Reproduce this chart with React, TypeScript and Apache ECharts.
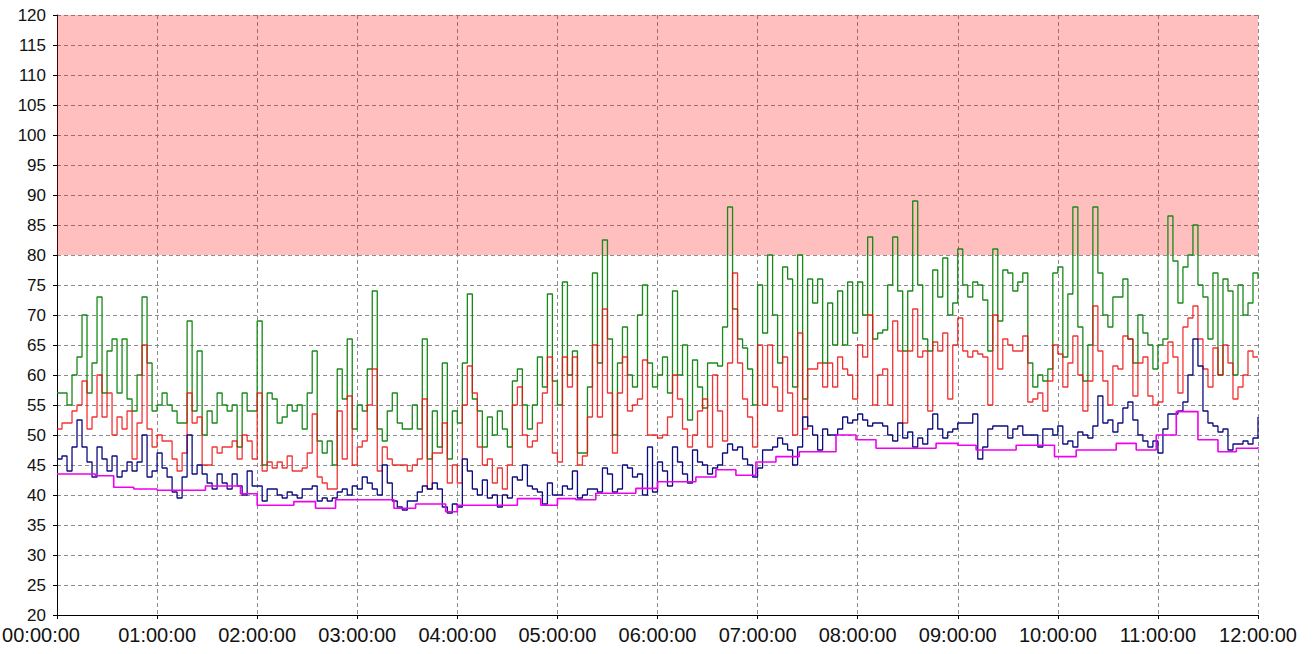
import React, { useEffect, useRef } from "react";
import * as echarts from "echarts";

// sampling step of the three noisy series, in minutes
const STEP_MIN = 3;

// x tick labels (one per hour)
const HOUR_LABELS = [
  "00:00:00", "01:00:00", "02:00:00", "03:00:00", "04:00:00", "05:00:00", "06:00:00",
  "07:00:00", "08:00:00", "09:00:00", "10:00:00", "11:00:00", "12:00:00",
];

// maximum (green), one row per hour, 3-minute samples
const maxH0 = [57, 57, 55, 60, 63, 70, 57, 62, 73, 57, 64, 66, 57, 66, 56, 54, 60, 73, 62, 54];
const maxH1 = [55, 57, 55, 54, 52, 52, 69, 54, 64, 50, 54, 52, 57, 55, 54, 55, 48, 57, 54, 54];
const maxH2 = [69, 45, 57, 56, 52, 53, 55, 54, 55, 51, 57, 64, 49, 47, 49, 45, 61, 56, 66, 51];
const maxH3 = [55, 54, 61, 74, 51, 49, 54, 57, 52, 51, 51, 55, 51, 66, 46, 54, 48, 62, 46, 54];
const maxH4 = [52, 62, 73.5, 56, 54, 48, 53, 50, 54, 51, 48, 59, 61, 55, 51, 55, 63, 58, 73.5, 59];
const maxH5 = [55, 75.5, 60, 64, 47, 47, 58, 77, 62, 82.5, 66, 50, 62, 68, 60, 58, 70, 75, 62, 58];
const maxH6 = [60, 63, 57, 74, 60, 65, 52.5, 62.5, 58, 54.5, 62, 62, 61.5, 68, 88, 71, 66, 64.5, 61, 55];
const maxH7 = [75, 67, 80, 70, 62, 78, 76, 58, 80, 56, 76, 72, 76, 62, 72, 65, 74, 65, 75.5, 67];
const maxH8 = [75.5, 70, 83, 66, 67, 67.5, 75, 83, 74, 64, 74, 89, 75, 66, 64, 77.5, 73, 79.5, 70, 72];
const maxH9 = [81, 75, 73, 75.5, 75, 72.5, 64, 81, 69, 77.5, 77, 74, 75.5, 77, 62, 58, 60, 59, 61, 77];
const maxH10 = [78, 63, 73.5, 88, 68, 59, 65, 88, 77, 70, 68, 73, 73, 76, 66, 62, 70, 67, 65, 61];
const maxH11 = [65, 66, 86.5, 79, 72, 78, 80, 85, 75, 73, 66, 77, 60, 76, 74, 60, 75, 70, 72, 77];
const maxEnd = [76];

// average (red)
const avgH0 = [51, 52, 52, 54, 55, 59, 51, 53, 60, 53, 57, 50, 53, 51, 54, 46, 52, 65, 51, 48];
const avgH1 = [50, 49, 49, 46, 44, 47, 57, 52, 53, 45, 45, 48, 47, 48, 48, 49, 46, 50, 49, 46];
const avgH2 = [57, 44, 45.5, 44.5, 45.5, 44.5, 46.5, 44, 44, 44.5, 47, 53.5, 43, 42, 41, 41, 54, 46, 56.5, 45];
const avgH3 = [48, 49, 55, 61, 44, 48, 46, 45, 45, 45, 44, 45, 46, 56, 41, 47, 47, 52, 42, 45];
const avgH4 = [42, 55, 61.5, 57, 48, 45, 46, 42, 44.5, 41, 45, 55, 58, 50, 48, 49, 52, 57, 63, 47];
const avgH5 = [45.5, 63, 58, 63, 45, 46.5, 53, 65, 53, 71, 57, 47, 57, 63, 54, 55, 56, 62.5, 50, 50];
const avgH6 = [49.5, 50, 53, 60, 56, 51, 48, 50, 54, 56, 48, 60, 54, 49, 62, 77, 62, 56, 53, 48];
const avgH7 = [65, 55, 65, 58, 54, 63, 57, 50, 67, 51, 61, 61, 62, 58, 62, 58, 63, 61, 60, 56];
const avgH8 = [65, 63, 70, 55, 60, 61, 55, 69, 64, 52, 64, 71, 63, 64, 54, 65.5, 64, 67, 56, 65];
const avgH9 = [69.5, 64, 63, 64, 63.5, 63, 55, 70, 61, 66, 65, 64, 64, 66.5, 55.5, 56, 57, 54, 59, 65];
const avgH10 = [63.5, 58, 62, 66.5, 60, 54, 59, 71.5, 64, 59, 55, 61.5, 61, 66.5, 66, 56.5, 62, 63, 56.5, 55];
const avgH11 = [55.5, 62, 65.5, 63, 57, 68, 69.5, 71.5, 66, 61, 58, 64.5, 60, 65, 62, 56, 58, 60, 64, 63];
const avgEnd = [63];

// current (navy)
const curH0 = [46, 46.5, 44, 48, 52.5, 48, 45.5, 43, 48, 46, 44, 46.5, 43, 44, 45.5, 44, 45.5, 50, 43, 44];
const curH1 = [47, 44.5, 43, 40.5, 39.5, 43, 50, 43.5, 45, 43.5, 42, 41, 43.5, 42, 41, 43.5, 41.5, 40, 44, 41.5];
const curH2 = [41.5, 39, 41, 41, 40, 39.5, 40.5, 40, 39.5, 41, 41, 41.5, 39, 39.5, 39, 39.5, 40.5, 41, 40, 41.5];
const curH3 = [41, 43, 42, 41, 40, 45, 42, 39, 38, 37.5, 39, 39, 40.5, 41.5, 41, 42, 41, 38, 37, 38.5];
const curH4 = [38, 46, 44, 41, 40, 42.5, 39.5, 40, 38, 40, 39.5, 43, 42.5, 45, 41.5, 41, 40.5, 38.5, 42, 40];
const curH5 = [40, 41.5, 41, 44, 39.5, 40, 41, 41, 40.5, 44.5, 43.5, 40.5, 41, 45, 44.5, 43, 43.5, 40, 48, 40.5];
const curH6 = [45.5, 44, 41.5, 48, 45.5, 43.5, 42, 47.5, 45.5, 45, 43.5, 44.5, 45, 47, 48.5, 47.5, 48, 46, 45, 43];
const curH7 = [44.5, 47.5, 47.5, 48, 49.5, 48.5, 47.5, 45, 48, 53, 51.5, 50, 47.5, 51, 50, 50, 51, 53, 52, 52.5];
const curH8 = [53.5, 52.5, 51.5, 52, 52, 51.5, 50, 49, 52, 49.5, 50.5, 48, 49.5, 48.5, 51, 53.5, 51, 49.5, 50.5, 51];
const curH9 = [52, 52, 52, 53.5, 46, 48, 51, 51.5, 51.5, 51.5, 49.5, 51, 51.5, 50, 50, 50, 48, 51, 51, 50];
const curH10 = [51.5, 48.5, 49, 48, 50.5, 50, 49.5, 51.5, 56.5, 52, 52.5, 50.5, 52, 54.5, 55.5, 52.5, 50, 49, 48, 49];
const curH11 = [47, 51, 53.5, 53.5, 54, 55.5, 60, 66, 61.5, 54, 52, 51.5, 50.5, 51, 47.5, 48.5, 48.5, 49, 48.5, 49.5];
const curEnd = [53];

// minimum (magenta): change times in minutes and values
const minTimes = [0, 23, 34, 46, 60, 89, 110, 120, 142, 155, 167, 202, 215, 233, 240, 276, 290, 300, 311, 323, 347, 360, 383, 395, 407, 419, 431, 445, 467, 479, 491, 527, 540, 551, 575, 598, 611, 635, 647, 659, 671, 684, 696, 707, 720];
const minValues = [43.5, 43.2, 41.3, 41, 40.8, 41.5, 40.2, 38.3, 38.9, 37.8, 39.2, 37.8, 38.5, 37.2, 38.3, 39.4, 38.3, 39.4, 39.2, 40.3, 41.1, 42.2, 43, 44.2, 43.3, 45.5, 46.4, 47.2, 50, 49.2, 47.8, 48.6, 48.3, 47.5, 48.3, 46.4, 47.5, 48.6, 47.5, 50, 53.9, 49.2, 47.2, 47.8, 48];

// alarm band
const alarmLow = 80;
const alarmHigh = 120;

const maxSeries = [...maxH0, ...maxH1, ...maxH2, ...maxH3, ...maxH4, ...maxH5, ...maxH6, ...maxH7, ...maxH8, ...maxH9, ...maxH10, ...maxH11, ...maxEnd];
const avgSeries = [...avgH0, ...avgH1, ...avgH2, ...avgH3, ...avgH4, ...avgH5, ...avgH6, ...avgH7, ...avgH8, ...avgH9, ...avgH10, ...avgH11, ...avgEnd];
const curSeries = [...curH0, ...curH1, ...curH2, ...curH3, ...curH4, ...curH5, ...curH6, ...curH7, ...curH8, ...curH9, ...curH10, ...curH11, ...curEnd];

const toPairs = (arr: number[]) => arr.map((v, i) => [i * STEP_MIN, v]);

const FONT = "Liberation Sans, Arial, sans-serif";

export default function App() {
  const ref = useRef<HTMLDivElement>(null);

  useEffect(() => {
    document.body.style.margin = "0";
    if (!ref.current) return;
    const chart = echarts.init(ref.current, undefined, { renderer: "svg" });
    const lineBase = {
      type: "line" as const,
      step: "end" as const,
      showSymbol: false,
      symbol: "none",
      silent: true,
    };
    chart.setOption({
      animation: false,
      backgroundColor: "#ffffff",
      grid: { left: 57, right: 56, top: 15, bottom: 39, containLabel: false, outerBoundsMode: "none" },
      xAxis: {
        type: "value",
        min: 0,
        max: 720,
        interval: 60,
        axisLine: { show: true, onZero: false, lineStyle: { color: "#000", width: 1 } },
        axisTick: { show: true, length: 4, lineStyle: { color: "#000" } },
        splitLine: { show: true, lineStyle: { color: "#8c8c8c", type: [4, 3], width: 1 } },
        axisLabel: {
          color: "#111",
          fontFamily: FONT,
          fontSize: 20,
          margin: 10,
          hideOverlap: false,
          formatter: (v: number) => {
            const label = HOUR_LABELS[Math.round(v / 60)] ?? "";
            return v === 0 ? "{first|" + label + "}" : label;
          },
          rich: {
            first: { fontFamily: FONT, fontSize: 20, color: "#111", padding: [0, 32, 0, 0] },
          },
        },
      },
      yAxis: {
        type: "value",
        min: 20,
        max: 120,
        interval: 5,
        axisLine: { show: true, lineStyle: { color: "#000", width: 1 } },
        axisTick: { show: true, length: 4, lineStyle: { color: "#000" } },
        splitLine: { show: true, lineStyle: { color: "#8c8c8c", type: [4, 3], width: 1 } },
        axisLabel: { color: "#111", fontFamily: FONT, fontSize: 17, margin: 11 },
      },
      series: [
        {
          type: "line",
          data: [],
          silent: true,
          markArea: {
            silent: true,
            itemStyle: { color: "rgba(255, 0, 0, 0.25)" },
            data: [[{ yAxis: alarmLow }, { yAxis: alarmHigh }]],
          },
        },
        {
          ...lineBase,
          name: "max",
          data: toPairs(maxSeries),
          lineStyle: { color: "#188a18", width: 1.3 },
          z: 2,
        },
        {
          ...lineBase,
          name: "avg",
          data: toPairs(avgSeries),
          lineStyle: { color: "#f01010", width: 1.3, opacity: 0.85 },
          z: 3,
        },
        {
          ...lineBase,
          name: "cur",
          data: toPairs(curSeries),
          lineStyle: { color: "#0c0c80", width: 1.3 },
          z: 4,
        },
        {
          ...lineBase,
          name: "min",
          data: minTimes.map((t, i) => [t, minValues[i]]),
          lineStyle: { color: "#f000f0", width: 1.6 },
          z: 5,
        },
      ],
    });
    return () => chart.dispose();
  }, []);

  return <div ref={ref} style={{ width: 1314, height: 654 }} />;
}
